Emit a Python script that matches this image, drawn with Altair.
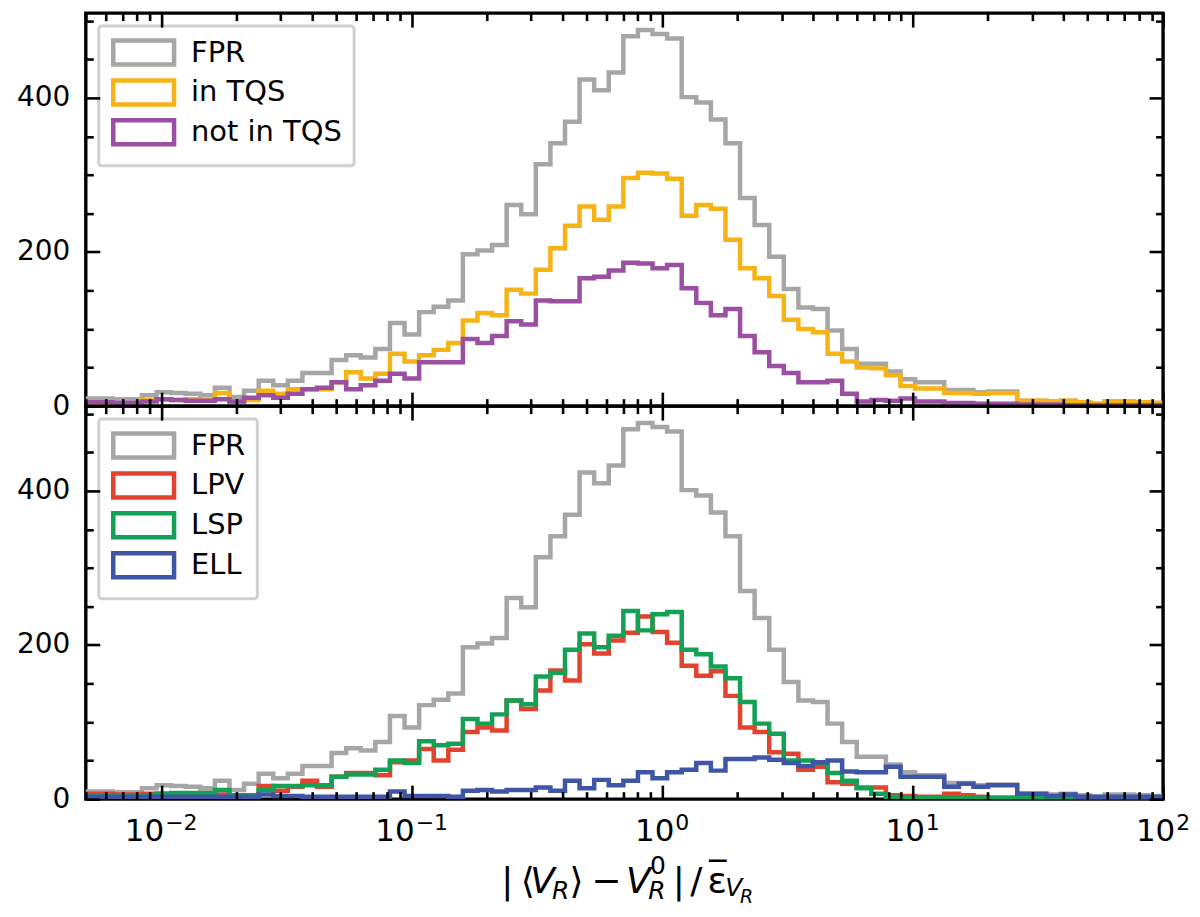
import altair as alt
import numpy as np
import pandas as pd

# ---------------------------------------------------------------------------
# Histogram counts (74 log-spaced bins, left to right,
# the last bin ending at 10^2)
# ---------------------------------------------------------------------------
LOG_BIN_WIDTH = 0.05824
N_BINS = 74

FPR = [10, 10, 9, 9, 14, 18, 17, 16, 14, 24, 12, 20, 33, 27, 33, 43, 43, 60, 66, 63,
       74, 108, 93, 122, 129, 137, 197, 202, 209, 261, 249, 314, 341, 369, 424, 410, 433, 480, 488, 483,
       477, 401, 394, 372, 341, 270, 235, 194, 152, 128, 126, 98, 74, 55, 55, 45, 35, 31, 31, 21,
       21, 18, 19, 19, 7, 7, 6, 7, 5, 3, 6, 6, 5, 4]

IN_TQS = [3, 3, 2, 2, 8, 9, 8, 9, 8, 17, 6, 8, 20, 16, 22, 22, 22, 31, 44, 36,
          42, 68, 58, 66, 73, 82, 111, 121, 118, 151, 146, 177, 205, 234, 259, 242, 259, 296, 303, 302,
          295, 247, 261, 256, 216, 179, 166, 143, 112, 100, 96, 68, 58, 50, 49, 40, 26, 23, 23, 17,
          17, 16, 17, 17, 7, 7, 6, 7, 5, 3, 6, 6, 5, 4]

NOT_IN_TQS = [5, 5, 4, 4, 6, 9, 8, 7, 7, 9, 6, 11, 14, 11, 16, 22, 24, 31, 22, 27,
              33, 42, 36, 57, 57, 57, 87, 82, 91, 110, 106, 137, 136, 136, 166, 168, 176, 186, 185, 179,
              183, 153, 134, 118, 126, 91, 70, 52, 43, 31, 31, 33, 16, 6, 8, 7, 10, 6, 6, 4,
              4, 3, 3, 3, 2, 2, 2, 1, 1, 1, 1, 1, 1, 1]

LPV = [7, 7, 6, 6, 7, 7, 6, 7, 8, 6, 5, 5, 17, 11, 16, 24, 16, 29, 34, 34,
       31, 48, 50, 65, 50, 64, 87, 93, 89, 128, 117, 141, 167, 154, 201, 189, 206, 216, 237, 217,
       203, 173, 160, 166, 134, 93, 87, 61, 59, 38, 42, 22, 20, 15, 15, 5, 4, 3, 3, 7,
       5, 3, 2, 2, 1, 1, 1, 1, 1, 0, 0, 0, 0, 0]

LSP = [5, 5, 5, 5, 5, 7, 8, 8, 8, 12, 5, 5, 12, 17, 17, 18, 18, 29, 32, 32,
       38, 50, 47, 75, 70, 72, 104, 98, 110, 128, 123, 159, 164, 194, 215, 197, 212, 244, 219, 240,
       243, 194, 188, 172, 157, 126, 98, 85, 50, 50, 46, 34, 24, 14, 7, 3, 2, 2, 2, 1,
       1, 1, 1, 1, 1, 1, 1, 1, 1, 1, 1, 1, 1, 1]

ELL = [3, 3, 3, 3, 3, 3, 3, 3, 3, 3, 3, 3, 6, 4, 4, 3, 3, 3, 3, 3,
       3, 10, 4, 4, 4, 3, 11, 12, 10, 12, 12, 15, 11, 24, 14, 25, 18, 24, 35, 27,
       35, 38, 47, 37, 52, 52, 54, 51, 47, 43, 48, 50, 36, 35, 35, 42, 29, 29, 29, 16,
       20, 16, 18, 18, 7, 7, 4, 6, 3, 3, 3, 3, 3, 3]

TOP_SERIES = ["FPR", "in TQS", "not in TQS"]
TOP_COLORS = ["#a6a6a6", "#f5b316", "#9a4fa2"]
BOTTOM_SERIES = ["FPR", "LPV", "LSP", "ELL"]
BOTTOM_COLORS = ["#a6a6a6", "#e2432e", "#13a155", "#3f55a6"]

X_MAJOR = [0.01, 0.1, 1, 10, 100]
X_EXPONENTS = ["\u22122", "\u22121", "0", "1", "2"]
X_MINOR = [round(m * 10.0 ** e, 6) for e in range(-3, 2) for m in range(2, 10)
           if 0.005 <= round(m * 10.0 ** e, 6) <= 100]
Y_MAJOR = [0, 200, 400]
Y_MINOR = [50, 100, 150, 250, 300, 350, 450, 500]

FONT = "DejaVu Sans"
W, H = 1080, 394
MAJOR_LEN, MINOR_LEN = 14, 7.5
PLOT_X0, PLOT_Y0 = 83, 403.7  # page position of the lower panel's plot origin

# tick label typography (DejaVu Sans advance widths in em)
BASE_SIZE, SUP_SIZE = 31, 22
ADVANCE = {"\u2212": 0.838, "0": 0.636, "1": 0.636, "2": 0.636}

edges = 10 ** (2 - LOG_BIN_WIDTH * np.arange(N_BINS, -1, -1))

XS = alt.Scale(type="log", domain=[0.005, 100], nice=False)
YS = alt.Scale(domain=[0, 510], nice=False, zero=True)

anchor = pd.DataFrame({"x": [1.0], "y": [200.0]})


def step_frame(names, arrays):
    rows = []
    for name, vals in zip(names, arrays):
        for i, v in enumerate(vals):
            rows.append({"series": name, "x": edges[i], "count": v})
        rows.append({"series": name, "x": edges[-1], "count": vals[-1]})
    return pd.DataFrame(rows)


def inward(orient, values, size):
    # ticks pointing into the frame: shift the axis inside by its tick length
    return alt.Axis(orient=orient, values=values, tickSize=size, offset=-size,
                    labels=False, domain=False, grid=False, title=None,
                    ticks=True, tickWidth=2.6, tickColor="black", zindex=1,
                    minExtent=0, maxExtent=0)


def carrier(x_axis, y_axis):
    return alt.Chart(anchor).mark_point(opacity=0, size=1).encode(
        x=alt.X("x:Q", scale=XS, axis=x_axis),
        y=alt.Y("y:Q", scale=YS, axis=y_axis),
    )


def tick_label_layers():
    # "10" with a raised exponent, centred as a whole on each decade tick
    out = []
    base_w = 2 * 0.636 * BASE_SIZE
    for value, exp in zip(X_MAJOR, X_EXPONENTS):
        sup_w = sum(ADVANCE[c] for c in exp) * SUP_SIZE
        left = -(base_w + 1 + sup_w) / 2
        src = pd.DataFrame({"v": [value]})
        for txt, size, dx, dy in [("10", BASE_SIZE, left, 42.3),
                                  (exp, SUP_SIZE, left + base_w + 1, 31.3)]:
            out.append(
                alt.Chart(src).mark_text(
                    text=txt, fontSize=size, font=FONT, color="black",
                    align="left", baseline="alphabetic", dx=dx,
                ).encode(
                    x=alt.X("v:Q", scale=XS, axis=None),
                    y=alt.value(H + dy),
                )
            )
    return out


def panel(names, colors, arrays, with_x_labels):
    df = step_frame(names, arrays)
    legend = alt.Legend(
        title=None, orient="top-left", offset=13,
        symbolType="M-2.54,-1H2.54V1H-2.54Z", symbolSize=576,
        symbolStrokeWidth=4.5, symbolFillColor="white", symbolOffset=18.5,
        labelOffset=33, labelFontSize=29, labelFont=FONT, labelColor="black",
        rowPadding=-3, padding=12, strokeColor="#d0d0d0", fillColor="white",
        cornerRadius=3,
    )
    color = alt.Color("series:N", scale=alt.Scale(domain=names, range=colors), legend=legend)

    layers = []
    for name in names:
        layers.append(
            alt.Chart(df)
            .transform_filter(alt.datum.series == name)
            .mark_line(interpolate="step-after", strokeWidth=4.5, clip=True)
            .encode(
                x=alt.X("x:Q", scale=XS, axis=None),
                y=alt.Y("count:Q", scale=YS, axis=None),
                color=color,
            )
        )

    layers += [
        carrier(inward("bottom", X_MAJOR, MAJOR_LEN), inward("left", Y_MAJOR, MAJOR_LEN)),
        carrier(inward("bottom", X_MINOR, MINOR_LEN), inward("left", Y_MINOR, MINOR_LEN)),
        carrier(inward("top", X_MAJOR, MAJOR_LEN), inward("right", Y_MAJOR, MAJOR_LEN)),
        carrier(inward("top", X_MINOR, MINOR_LEN), inward("right", Y_MINOR, MINOR_LEN)),
    ]

    y_labels = alt.Axis(orient="left", values=Y_MAJOR, ticks=False, domain=False, grid=False,
                        labelFontSize=28, labelFont=FONT, labelColor="black", labelPadding=16,
                        title=None, labelFlush=False)
    layers.append(
        alt.Chart(anchor).mark_point(opacity=0, size=1).encode(
            y=alt.Y("y:Q", scale=YS, axis=y_labels),
        )
    )

    if with_x_labels:
        layers += tick_label_layers()

        # x-axis title |<V_R> - V_R^0| / eps_bar_{V_R}, built from pieces
        # (text, size, italic, bold, page x centre, page baseline)
        pieces = [
            ("|", 36, False, False, 505.5, 892),
            ("\u27e8", 36, False, False, 526, 892),
            ("V", 36, True, False, 541, 892),
            ("R", 25, True, False, 559, 898),
            ("\u27e9", 36, False, False, 575, 892),
            ("\u2212", 36, False, False, 605, 892),
            ("V", 36, True, False, 637, 892),
            ("0", 25, False, False, 656.5, 873),
            ("R", 25, True, False, 655.5, 898),
            ("|", 36, False, False, 677.5, 892),
            ("/", 36, False, False, 695, 892),
            ("\u03b5", 36, False, False, 716, 892),
            ("\u2014", 20, False, True, 716.5, 864.5),
            ("V", 25, True, False, 732.5, 895),
            ("R", 19, True, False, 745.5, 902),
        ]
        for txt, size, italic, bold, px, py in pieces:
            layers.append(
                alt.Chart(anchor).mark_text(
                    text=txt, fontSize=size, font=FONT, color="black",
                    fontStyle="italic" if italic else "normal",
                    fontWeight="bold" if bold else "normal",
                    align="center", baseline="alphabetic",
                ).encode(x=alt.value(px - PLOT_X0), y=alt.value(py - PLOT_Y0))
            )

    return (
        alt.layer(*layers)
        .resolve_axis(x="independent", y="independent")
        .properties(width=W, height=H)
    )


top = panel(TOP_SERIES, TOP_COLORS, [FPR, IN_TQS, NOT_IN_TQS], False)
bottom = panel(BOTTOM_SERIES, BOTTOM_COLORS, [FPR, LPV, LSP, ELL], True)

chart = (
    alt.vconcat(top, bottom, spacing=0, bounds="flush")
    .resolve_scale(color="independent")
    .resolve_legend(color="independent")
    .properties(padding={"left": 6, "top": 0, "right": 0, "bottom": 0})
    .configure_view(stroke="black", strokeWidth=3.4)
    .configure_legend(strokeWidth=3)
    .configure_axis(labelFont=FONT)
)

chart.save("out.html", embed_options={"renderer": "svg", "actions": False})
